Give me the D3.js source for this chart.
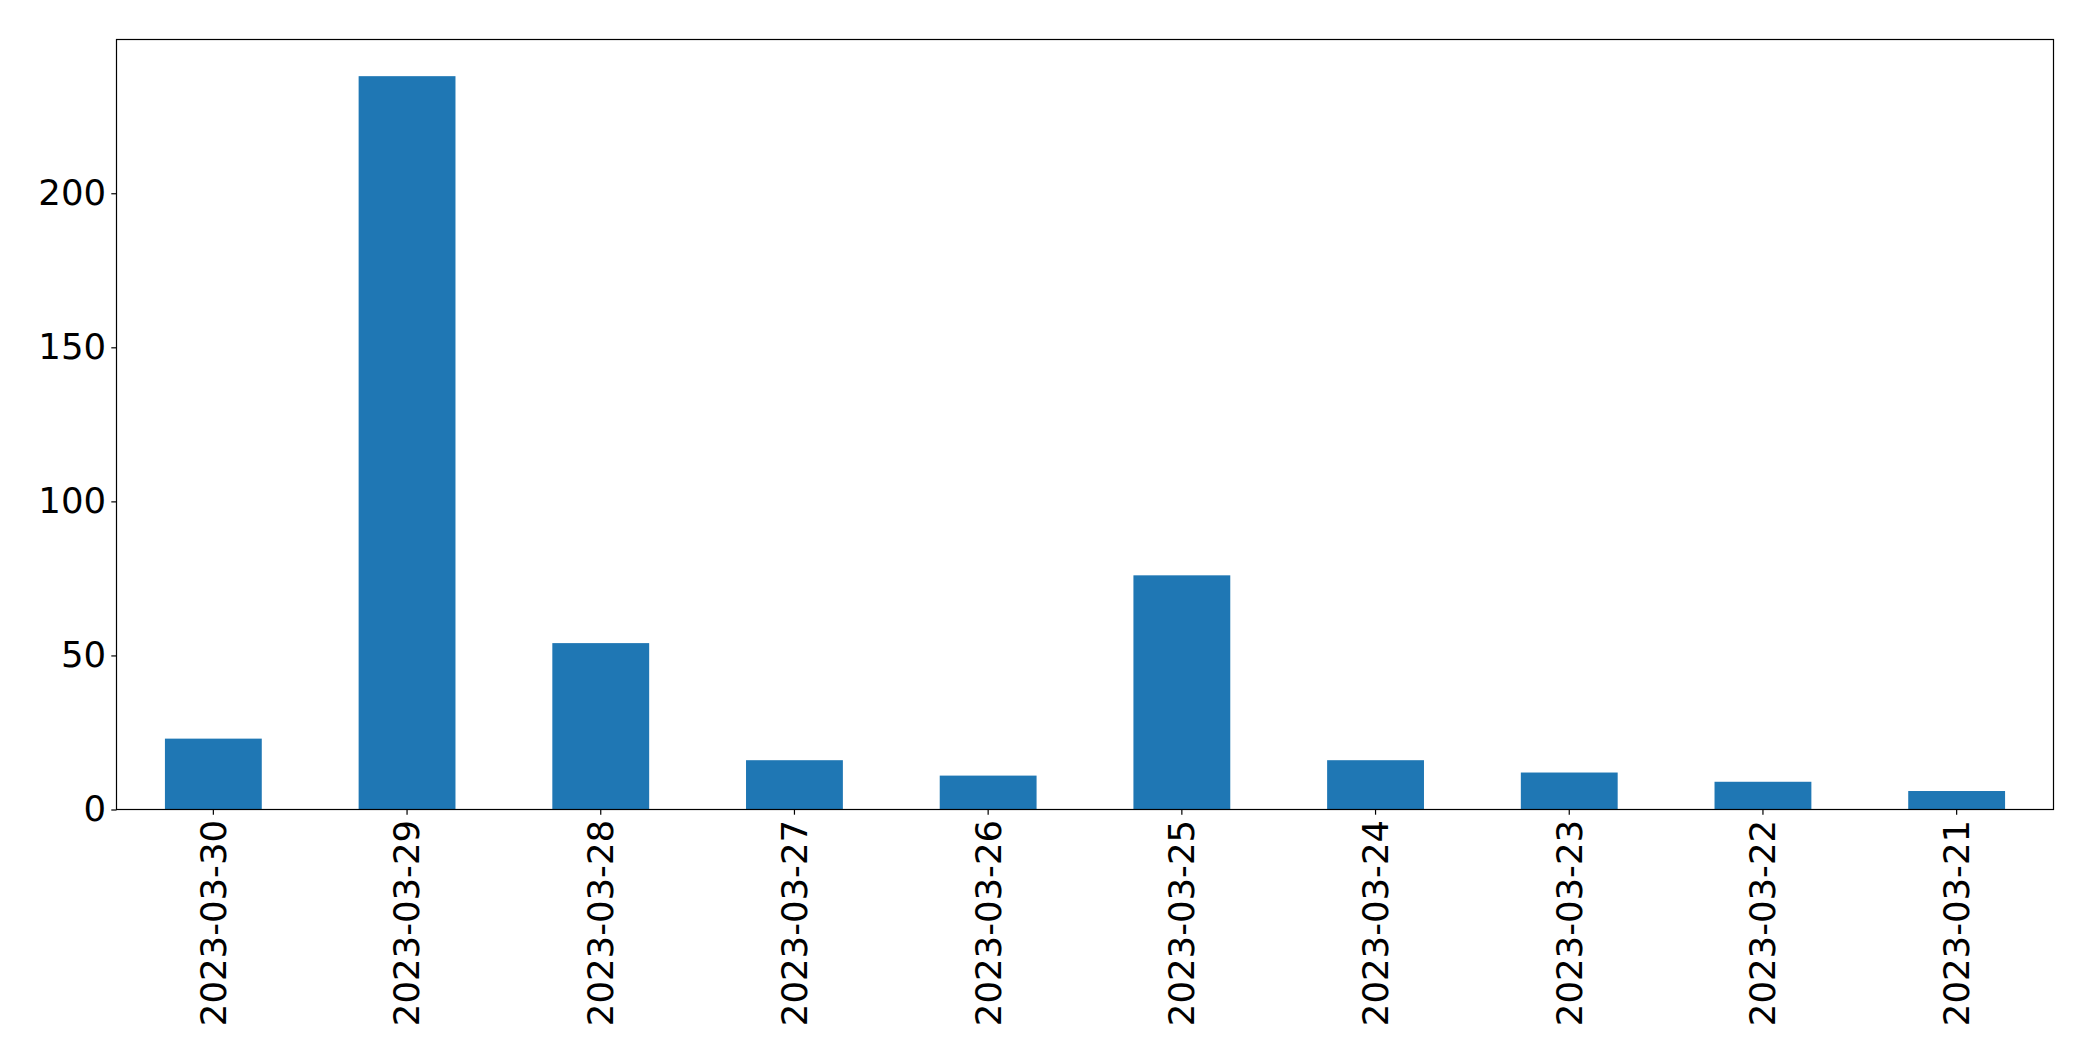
<!DOCTYPE html>
<html>
<head>
<meta charset="utf-8">
<script src="https://cdn.jsdelivr.net/npm/d3@7"></script>
<style>
  html, body { margin: 0; padding: 0; background: #fff; }
  svg { display: block; }
  text { font-family: "DejaVu Sans", sans-serif; }
</style>
</head>
<body>
<svg id="chart" width="2093" height="1061"></svg>
<script>
const categories = ["2023-03-30", "2023-03-29", "2023-03-28", "2023-03-27", "2023-03-26",
                    "2023-03-25", "2023-03-24", "2023-03-23", "2023-03-22", "2023-03-21"];
const values = [23, 238, 54, 16, 11, 76, 16, 12, 9, 6];
const yTicks = [0, 50, 100, 150, 200];

const margin = { left: 116.5, right: 2093 - 2053.5, top: 39.5, bottom: 1061 - 809.5 };
const W = 2093, H = 1061;
const iw = W - margin.left - margin.right;
const ih = H - margin.top - margin.bottom;

const svg = d3.select("#chart");
const g = svg.append("g").attr("transform", `translate(${margin.left},${margin.top})`);

const x = d3.scaleBand().domain(categories).range([0, iw]).paddingInner(0.5).paddingOuter(0.25);
const y = d3.scaleLinear().domain([0, d3.max(values) * 1.05]).range([ih, 0]);

g.selectAll("rect.bar").data(values).join("rect")
  .attr("class", "bar")
  .attr("x", (d, i) => x(categories[i]))
  .attr("width", x.bandwidth())
  .attr("y", d => y(d))
  .attr("height", d => ih - y(d))
  .attr("fill", "#1f77b4");

const fs = 35.5;
const tickLen = 5.2, pad = 5.2;

const yAxis = g.append("g").call(d3.axisLeft(y).tickValues(yTicks).tickSize(tickLen).tickPadding(pad).tickFormat(d3.format("d")));
yAxis.select(".domain").remove();
yAxis.selectAll("line").attr("stroke", "#000").attr("stroke-width", 1.2);
yAxis.selectAll("text").attr("font-size", fs).attr("fill", "#000").attr("font-family", "DejaVu Sans");

const xAxis = g.append("g").attr("transform", `translate(0,${ih})`)
  .call(d3.axisBottom(x).tickSize(tickLen).tickPadding(pad));
xAxis.select(".domain").remove();
xAxis.selectAll("line").attr("stroke", "#000").attr("stroke-width", 1.2);
xAxis.selectAll("text")
  .attr("font-size", fs).attr("fill", "#000").attr("font-family", "DejaVu Sans")
  .attr("transform", "rotate(-90)")
  .attr("text-anchor", "end")
  .attr("dy", "0.35em")
  .attr("x", -(tickLen + pad))
  .attr("y", 0);

g.append("rect").attr("x", 0).attr("y", 0).attr("width", iw).attr("height", ih)
  .attr("fill", "none").attr("stroke", "#000").attr("stroke-width", 1.2);
</script>
</body>
</html>
